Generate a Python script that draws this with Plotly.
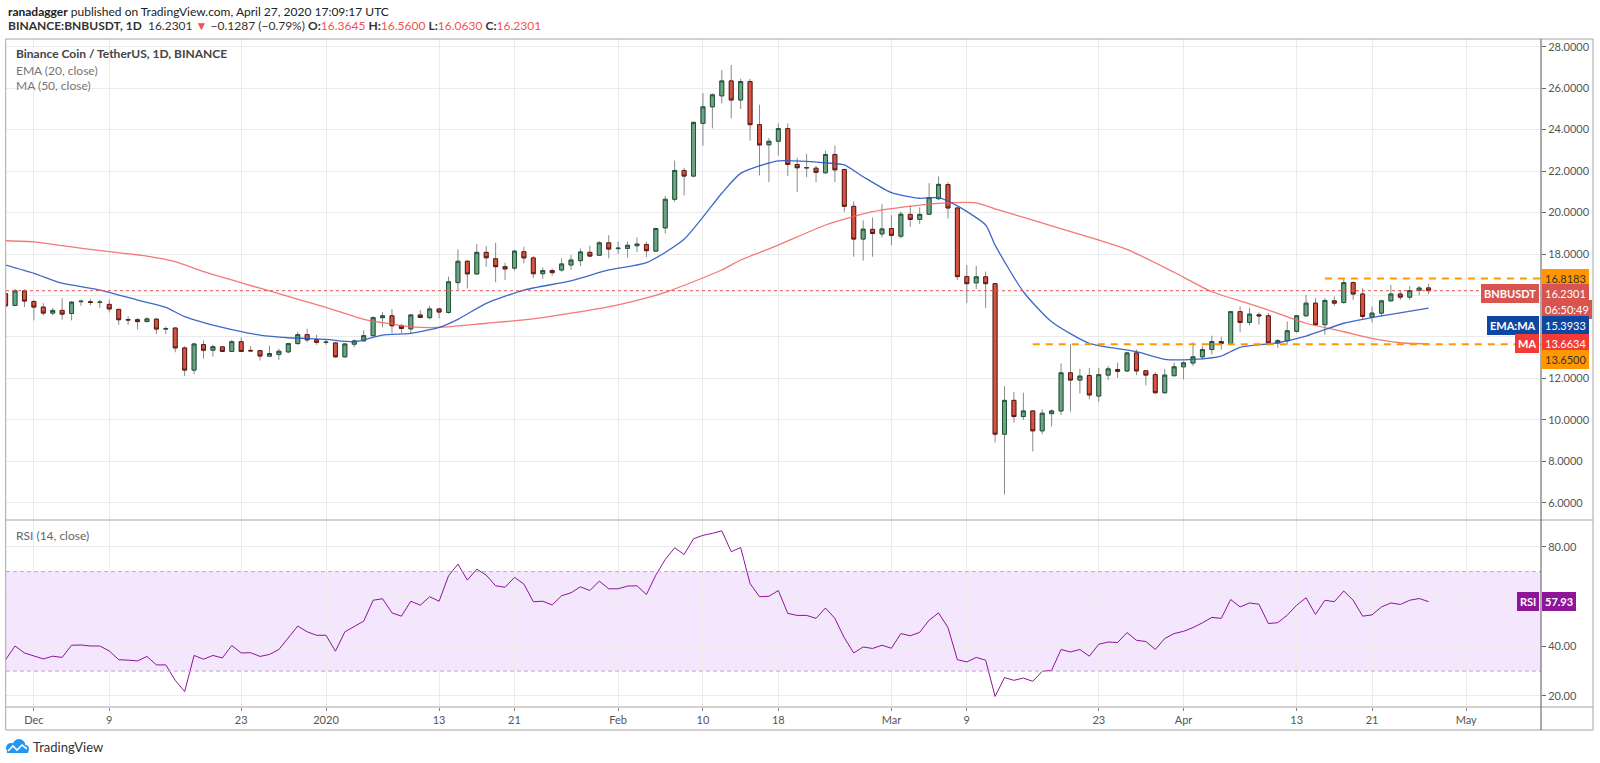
import pandas as pd
import plotly.graph_objects as go

# BINANCE:BNBUSDT daily candles, 28 Nov 2019 -> 27 Apr 2020
dates = pd.date_range('2019-11-28', '2020-04-27', freq='D')

opens = (
    [16.08, 15.52, 16.22]
    + [15.71, 15.44, 15.15, 15.28, 15.13, 15.70, 15.70, 15.67, 15.57, 15.33, 14.84, 14.83, 14.74, 14.86, 14.38, 14.43,
       13.47, 12.40, 13.63, 13.36, 13.52, 13.30, 13.77, 13.35, 13.34, 13.07, 13.15, 13.28, 13.68, 14.11, 13.87]
    + [13.73, 13.71, 13.04, 13.65, 13.81, 14.06, 14.93, 15.02, 14.54, 14.39, 15.06, 14.93, 15.35, 15.18, 16.62, 17.65,
       17.04, 18.08, 17.77, 17.39, 17.32, 18.11, 17.81, 17.05, 17.20, 17.23, 17.47, 17.68, 18.08, 17.94, 18.54]
    + [18.26, 18.27, 18.40, 18.46, 18.14, 19.26, 20.64, 22.03, 21.76, 24.30, 25.10, 25.63, 26.35, 25.43, 26.32, 24.24,
       23.27, 23.44, 24.05, 22.32, 22.15, 22.14, 21.92, 22.80, 22.08, 20.30, 18.72, 19.19, 18.97]
    + [19.23, 18.86, 19.91, 19.67, 19.92, 20.67, 21.35, 20.22, 16.91, 16.61, 16.90, 16.57, 9.31, 10.94, 10.16, 10.43,
       9.47, 10.30, 10.43, 12.27, 11.92, 12.14, 11.15, 12.16, 12.43, 12.36, 13.23, 12.37, 12.18, 11.31, 12.13]
    + [12.56, 12.74, 13.04, 13.39, 13.78, 13.68, 15.22, 14.70, 15.07, 15.02, 13.71, 13.82, 14.27, 15.02, 15.63, 14.59,
       15.74, 15.66, 16.62, 16.07, 14.96, 15.15, 15.74, 16.07, 15.92, 16.25, 16.3645]
)
highs = (
    [16.20, 16.32, 16.30]
    + [15.78, 15.63, 15.40, 15.87, 15.72, 15.80, 15.84, 15.80, 15.80, 15.35, 15.00, 14.92, 14.95, 14.90, 14.50, 14.45,
       13.55, 13.72, 13.83, 13.63, 13.56, 13.86, 13.98, 13.55, 13.38, 13.58, 13.43, 13.72, 14.26, 14.40, 14.10]
    + [13.87, 13.74, 13.70, 13.87, 14.33, 15.00, 15.20, 15.35, 14.63, 15.10, 15.30, 15.50, 15.40, 16.91, 18.22, 17.72,
       18.48, 18.38, 18.54, 17.58, 18.20, 18.35, 17.90, 17.35, 17.30, 17.79, 17.95, 18.27, 18.40, 18.62, 18.91]
    + [18.60, 18.60, 18.80, 18.60, 19.26, 20.80, 22.51, 22.16, 24.40, 25.76, 25.75, 26.87, 27.12, 26.45, 26.45, 25.20,
       23.60, 24.30, 24.30, 22.64, 22.83, 22.25, 22.99, 23.23, 22.10, 20.54, 19.63, 19.76, 20.40]
    + [19.87, 20.05, 20.35, 20.25, 21.42, 21.74, 21.47, 20.25, 17.47, 17.42, 17.15, 16.60, 11.63, 11.34, 11.31, 10.45,
       10.51, 10.51, 12.72, 13.65, 12.46, 12.51, 12.51, 12.60, 12.76, 13.27, 13.39, 12.40, 12.30, 12.46, 12.76]
    + [12.83, 13.74, 13.55, 14.06, 14.00, 15.25, 15.47, 15.40, 15.18, 15.15, 13.90, 14.75, 15.05, 16.03, 15.87, 15.87,
       15.95, 16.8183, 16.68, 16.35, 15.47, 15.80, 16.51, 16.24, 16.45, 16.45, 16.56]
)
lows = (
    [15.40, 15.48, 15.44]
    + [14.80, 15.04, 15.04, 14.83, 14.80, 15.50, 15.53, 15.40, 15.18, 14.58, 14.58, 14.36, 14.72, 14.14, 14.14, 13.26,
       12.11, 12.20, 12.95, 13.05, 13.28, 13.27, 13.27, 13.30, 12.86, 13.05, 12.90, 13.22, 13.62, 13.74, 13.62]
    + [13.62, 13.00, 13.00, 13.50, 13.80, 14.03, 14.46, 14.19, 14.19, 14.15, 14.90, 14.85, 14.90, 15.12, 16.24, 16.34,
       16.99, 17.39, 16.64, 16.75, 17.20, 17.55, 16.85, 16.80, 16.95, 17.15, 17.23, 17.42, 17.85, 17.90, 17.79]
    + [18.00, 17.83, 18.10, 17.85, 18.10, 18.99, 20.51, 20.83, 21.70, 23.23, 24.06, 25.26, 24.54, 25.00, 23.47, 21.79,
       21.47, 22.75, 21.76, 20.99, 21.71, 21.47, 21.87, 21.47, 20.03, 17.87, 17.68, 17.87, 18.80]
    + [18.43, 18.75, 19.31, 19.45, 19.87, 20.59, 19.71, 16.75, 15.63, 16.31, 15.39, 8.91, 6.40, 9.87, 10.00, 8.48,
       9.31, 9.68, 10.23, 10.40, 11.28, 10.99, 10.86, 11.92, 12.03, 12.30, 12.16, 11.66, 11.25, 11.25, 12.10]
    + [11.95, 12.59, 12.91, 13.15, 13.39, 13.60, 14.22, 14.55, 14.59, 13.58, 13.47, 13.63, 14.20, 14.99, 14.54, 14.11,
       15.50, 15.60, 15.79, 14.86, 14.70, 15.00, 15.71, 15.79, 15.79, 16.00, 16.063]
)
closes = (
    [15.50, 16.22, 15.73]
    + [15.44, 15.15, 15.28, 15.10, 15.68, 15.72, 15.66, 15.68, 15.35, 14.83, 14.82, 14.74, 14.87, 14.38, 14.40, 13.47,
       12.40, 13.66, 13.36, 13.53, 13.30, 13.77, 13.30, 13.33, 13.08, 13.20, 13.31, 13.68, 14.11, 13.86, 13.74]
    + [13.75, 13.04, 13.66, 13.81, 14.06, 14.93, 15.02, 14.54, 14.41, 15.06, 14.94, 15.35, 15.20, 16.66, 17.65, 17.04,
       18.08, 17.82, 17.39, 17.28, 18.14, 17.81, 17.05, 17.20, 17.10, 17.52, 17.71, 18.10, 17.90, 18.54, 18.24]
    + [18.28, 18.42, 18.48, 18.16, 19.23, 20.64, 22.03, 21.76, 24.35, 25.10, 25.68, 26.35, 25.43, 26.32, 24.24, 23.26,
       23.44, 24.05, 22.32, 22.16, 22.17, 21.94, 22.80, 22.06, 20.30, 18.72, 19.20, 18.99, 19.21]
    + [18.90, 19.92, 19.67, 19.91, 20.72, 21.36, 20.22, 16.91, 16.57, 16.90, 16.57, 9.31, 10.94, 10.16, 10.43, 9.47,
       10.32, 10.43, 12.27, 11.92, 12.11, 11.20, 12.18, 12.46, 12.34, 13.23, 12.36, 12.16, 11.31, 12.16, 12.56]
    + [12.75, 13.04, 13.39, 13.78, 13.68, 15.22, 14.70, 15.10, 15.02, 13.71, 13.82, 14.30, 15.02, 15.63, 14.59, 15.76,
       15.63, 16.62, 16.07, 14.99, 15.15, 15.74, 16.07, 15.92, 16.24, 16.3588, 16.2301]
)

# RSI (14, close)
rsi = (
    [34.6, 40.1, 37.3]
    + [36.1, 34.9, 36.0, 35.5, 40.4, 40.5, 40.1, 40.1, 38.1, 34.6, 34.4, 34.1, 35.9, 32.5, 32.5, 26.3,
       21.8, 36.3, 34.8, 36.3, 35.3, 40.3, 37.3, 37.4, 35.9, 36.7, 38.7, 43.4, 48.1, 45.8, 44.4]
    + [44.4, 38.0, 45.8, 47.8, 50.1, 58.5, 59.1, 53.4, 52.1, 58.1, 56.5, 59.9, 58.1, 68.3, 73.0, 66.6,
       71.0, 68.6, 64.3, 63.7, 67.7, 65.0, 57.9, 58.1, 56.6, 60.3, 61.5, 63.9, 62.4, 66.2, 63.1]
    + [63.1, 64.2, 64.3, 60.8, 68.6, 74.9, 79.6, 76.9, 83.2, 84.6, 85.4, 86.4, 78.0, 79.7, 65.2, 59.9,
       60.1, 62.4, 53.2, 52.4, 52.4, 51.2, 55.4, 51.2, 43.4, 37.3, 39.7, 39.1, 40.4]
    + [39.2, 45.1, 44.2, 45.6, 50.5, 53.4, 47.5, 34.6, 33.7, 35.5, 34.4, 19.8, 27.4, 26.3, 27.2, 25.9,
       29.9, 30.3, 38.7, 37.7, 38.7, 36.0, 40.8, 41.7, 41.5, 45.5, 42.4, 41.9, 38.7, 43.1, 45.1]
    + [46.0, 47.5, 49.4, 51.6, 51.2, 58.8, 55.8, 57.4, 56.9, 49.1, 49.5, 52.5, 56.5, 59.5, 52.8, 58.5,
       57.9, 62.2, 58.5, 52.1, 52.6, 55.8, 57.4, 56.8, 58.5, 59.2, 57.93]
)

# EMA 20 and MA 50, read at points along the curves
ema_dates = ['2019-11-28', '2019-12-01', '2019-12-04', '2019-12-08', '2019-12-12', '2019-12-15', '2019-12-17',
             '2019-12-21', '2019-12-25', '2019-12-28', '2020-01-01', '2020-01-04', '2020-01-07', '2020-01-10',
             '2020-01-13', '2020-01-15', '2020-01-18', '2020-01-22', '2020-01-27', '2020-01-31', '2020-02-04',
             '2020-02-08', '2020-02-12', '2020-02-14', '2020-02-18', '2020-02-23', '2020-02-25', '2020-02-27',
             '2020-03-01', '2020-03-04', '2020-03-06', '2020-03-08', '2020-03-11', '2020-03-12', '2020-03-15',
             '2020-03-18', '2020-03-22', '2020-03-27', '2020-03-30', '2020-04-02', '2020-04-05', '2020-04-07',
             '2020-04-11', '2020-04-14', '2020-04-18', '2020-04-20', '2020-04-23', '2020-04-27']
ema_vals = [17.47, 17.07, 16.59, 16.26, 15.78, 15.43, 14.98, 14.46, 14.09, 13.96, 13.88, 13.77, 14.09, 14.17,
            14.46, 14.85, 15.62, 16.26, 16.71, 17.23, 17.58, 18.71, 20.93, 21.89, 22.49, 22.40, 22.30, 21.73,
            20.96, 20.69, 20.72, 20.32, 19.40, 18.43, 16.18, 14.73, 13.69, 13.29, 12.92, 12.92, 13.08, 13.50,
            13.72, 14.04, 14.66, 14.85, 15.09, 15.3933]

ma_dates = ['2019-11-28', '2019-12-01', '2019-12-04', '2019-12-09', '2019-12-13', '2019-12-16', '2019-12-19',
            '2019-12-22', '2019-12-25', '2020-01-01', '2020-01-05', '2020-01-08', '2020-01-10', '2020-01-13',
            '2020-01-18', '2020-01-22', '2020-01-27', '2020-02-01', '2020-02-06', '2020-02-12', '2020-02-14',
            '2020-02-18', '2020-02-23', '2020-02-28', '2020-03-04', '2020-03-07', '2020-03-10', '2020-03-12',
            '2020-03-16', '2020-03-21', '2020-03-26', '2020-03-31', '2020-04-04', '2020-04-08', '2020-04-11',
            '2020-04-14', '2020-04-18', '2020-04-21', '2020-04-24', '2020-04-27']
ma_vals = [18.64, 18.59, 18.40, 18.11, 17.90, 17.63, 17.15, 16.75, 16.35, 15.43, 14.85, 14.62, 14.49, 14.46,
           14.66, 14.82, 15.15, 15.55, 16.15, 17.23, 17.71, 18.43, 19.40, 20.04, 20.36, 20.47, 20.47, 20.18,
           19.63, 18.95, 18.22, 17.12, 16.18, 15.60, 15.14, 14.66, 14.25, 13.93, 13.72, 13.6634]

last_price = 16.2301
resistance = 16.8183
support = 13.65

date_ticks = ['2019-12-01', '2019-12-09', '2019-12-23', '2020-01-01', '2020-01-13', '2020-01-21', '2020-02-01',
              '2020-02-10', '2020-02-18', '2020-03-01', '2020-03-09', '2020-03-23', '2020-04-01', '2020-04-13',
              '2020-04-21', '2020-05-01']
date_labels = ['Dec', '9', '23', '2020', '13', '21', 'Feb', '10', '18', 'Mar', '9', '23', 'Apr', '13', '21', 'May']

price_ticks = [6, 8, 10, 12, 14, 16, 18, 20, 22, 24, 26, 28]
# 14 and 16 sit under the coloured price tags
price_labels = ['6.0000', '8.0000', '10.0000', '12.0000', '', '', '18.0000', '20.0000', '22.0000', '24.0000',
                '26.0000', '28.0000']
rsi_ticks = [20, 40, 60, 80]
rsi_labels = ['20.00', '40.00', '', '80.00']

FONT = 'Lato, Open Sans, sans-serif'
GRID = '#ebebeb'

# plot box in pixels: x 6..1541, y 39..707
def px(x, y):
    return (x - 6) / 1535, (707 - y) / 668

body_top = [max(o, c) for o, c in zip(opens, closes)]
body_bot = [min(o, c) for o, c in zip(opens, closes)]

fig = go.Figure()

# wicks (grey), then bodies on top with dark borders
fig.add_trace(go.Candlestick(
    x=dates, open=opens, high=highs, low=lows, close=closes,
    increasing=dict(line=dict(color='#8a8a8c', width=1), fillcolor='rgba(0,0,0,0)'),
    decreasing=dict(line=dict(color='#8a8a8c', width=1), fillcolor='rgba(0,0,0,0)'),
    hoverinfo='skip', showlegend=False, xaxis='x', yaxis='y'))
fig.add_trace(go.Candlestick(
    x=dates, open=opens, high=body_top, low=body_bot, close=closes,
    increasing=dict(line=dict(color='#225437', width=1), fillcolor='#6ba583'),
    decreasing=dict(line=dict(color='#5b1a13', width=1), fillcolor='#d75442'),
    hoverinfo='skip', showlegend=False, xaxis='x', yaxis='y'))

fig.add_trace(go.Scatter(x=ma_dates, y=ma_vals, mode='lines', line=dict(color='#f4625e', width=1.3, shape='spline', smoothing=0.6),
                         opacity=0.85, hoverinfo='skip', showlegend=False, xaxis='x', yaxis='y'))
fig.add_trace(go.Scatter(x=ema_dates, y=ema_vals, mode='lines', line=dict(color='#2a59c2', width=1.3, shape='spline', smoothing=0.6),
                         opacity=0.9, hoverinfo='skip', showlegend=False, xaxis='x', yaxis='y'))

fig.add_trace(go.Scatter(x=dates, y=rsi, mode='lines', line=dict(color='#8e1599', width=1),
                         hoverinfo='skip', showlegend=False, xaxis='x', yaxis='y2'))

x_left, y_bot = px(5.7, 730)
x_right, _ = px(1593, 0)

shapes = [
    # rsi band
    dict(type='rect', xref='paper', yref='y2', x0=0, x1=1, y0=30, y1=70, fillcolor='#f3e6fd', line_width=0, layer='below'),
    dict(type='line', xref='paper', yref='y2', x0=0, x1=1, y0=70, y1=70, line=dict(color='#b9aabd', width=1, dash='4px,3px')),
    dict(type='line', xref='paper', yref='y2', x0=0, x1=1, y0=30, y1=30, line=dict(color='#b9aabd', width=1, dash='4px,3px')),
    # last price line
    dict(type='line', xref='paper', yref='y', x0=0, x1=1, y0=last_price, y1=last_price, line=dict(color='#e0534f', width=1, dash='dot')),
    # resistance / support
    dict(type='line', xref='x', yref='y', x0='2020-04-16', x1='2020-05-09', y0=resistance, y1=resistance,
         line=dict(color='#ff9800', width=2, dash='7px,6px')),
    dict(type='line', xref='x', yref='y', x0='2020-03-16', x1='2020-05-09', y0=support, y1=support,
         line=dict(color='#ff9800', width=2, dash='7px,6px')),
    # frame, pane separator, axis lines
    dict(type='rect', xref='paper', yref='paper', x0=x_left, x1=x_right, y0=y_bot, y1=1, line=dict(color='#a6a6a6', width=1)),
    dict(type='line', xref='paper', yref='paper', x0=x_left, x1=x_right, y0=0.2799, y1=0.2799, line=dict(color='#a6a6a6', width=1)),
    dict(type='line', xref='paper', yref='paper', x0=x_left, x1=x_right, y0=0, y1=0, line=dict(color='#a6a6a6', width=1)),
    dict(type='line', xref='paper', yref='paper', x0=1, x1=1, y0=y_bot, y1=1, line=dict(color='#555555', width=1)),
]

# TradingView logo: small blue cloud with a white zigzag
for cx, cy, r in [(11, 748, 5), (19, 745.5, 6.5), (25, 749, 4)]:
    a0, b0 = px(cx - r, cy + r)
    a1, b1 = px(cx + r, cy - r)
    shapes.append(dict(type='circle', xref='paper', yref='paper', x0=a0, x1=a1, y0=b0, y1=b1,
                       fillcolor='#2196f3', line_width=0))
a0, b0 = px(7, 753)
a1, b1 = px(28, 748)
shapes.append(dict(type='rect', xref='paper', yref='paper', x0=a0, x1=a1, y0=b0, y1=b1, fillcolor='#2196f3', line_width=0))
zig = [px(8, 751), px(13, 746), px(17, 750), px(22, 745), px(27, 749)]
path = 'M ' + ' L '.join('%.5f,%.5f' % p for p in zig)
shapes.append(dict(type='path', xref='paper', yref='paper', path=path, line=dict(color='white', width=1.6)))


def box(text, y, bg, fg='white', shift=0, side='value', yref='y'):
    a = dict(text=text, xref='paper', yref=yref, x=1, y=y, yshift=shift, showarrow=False,
             bgcolor=bg, bordercolor=bg, borderpad=2, font=dict(family=FONT, size=11, color=fg))
    if side == 'value':
        a.update(xanchor='left', xshift=1)
    else:
        a.update(xanchor='right', xshift=-2)
    return a


def note(text, x, y, size=12, color='#777', family=FONT):
    return dict(text=text, xref='paper', yref='paper', x=x, y=y, xanchor='left', yanchor='middle',
                showarrow=False, font=dict(family=family, size=size, color=color))


annotations = [
    note('<b>ranadagger</b> published on TradingView.com, April 27, 2020 17:09:17 UTC', 0, px(0, 11)[1], color='#222'),
    note('<b>BINANCE:BNBUSDT, 1D</b>  16.2301 <span style="color:#ef5350">▼</span> −0.1287 (−0.79%) '
         '<b>O:</b><span style="color:#ef5350">16.3645</span> <b>H:</b><span style="color:#ef5350">16.5600</span> '
         '<b>L:</b><span style="color:#ef5350">16.0630</span> <b>C:</b><span style="color:#ef5350">16.2301</span>',
         0, px(0, 25)[1], color='#333'),
    note('<b>Binance Coin / TetherUS, 1D, BINANCE</b>', px(14, 0)[0], px(0, 53.3)[1], color='#444'),
    note('EMA (20, close)', px(14, 0)[0], px(0, 70.7)[1]),
    note('MA (50, close)', px(14, 0)[0], px(0, 85)[1]),
    note('RSI (14, close)', px(14, 0)[0], px(0, 535)[1], color='#666'),
    note('TradingView', px(31, 0)[0], px(0, 747)[1], size=13, color='#333'),
    box('16.8183', resistance, '#ff9800', fg='#333'),
    box('16.2301', last_price, '#d9534f', shift=-3),
    box('<b>BNBUSDT</b>', last_price, '#d9534f', shift=-3, side='label'),
    box('06:50:49', last_price, '#d9534f', shift=-19),
    box('15.3933', 15.3933, '#0d47a1', shift=-17),
    box('<b>EMA:MA</b>', 15.3933, '#0d47a1', shift=-17, side='label'),
    box('13.6634', 13.6634, '#f23b36'),
    box('<b>MA</b>', 13.6634, '#f23b36', side='label'),
    box('13.6500', support, '#ff9800', fg='#333', shift=-15),
    box('<b>57.93</b>', 57.93, '#8e1599', yref='y2'),
    box('<b>RSI</b>', 57.93, '#8e1599', yref='y2', side='label'),
]

fig.update_layout(
    width=1600, height=763,
    margin=dict(l=6, r=59, t=39, b=56),
    paper_bgcolor='white', plot_bgcolor='white',
    font=dict(family=FONT, size=11, color='#555'),
    boxgap=0.4,
    showlegend=False,
    xaxis=dict(type='date', range=['2019-11-28 01:00', '2020-05-08 22:20'], anchor='y2',
               rangeslider=dict(visible=False), tickvals=date_ticks, ticktext=date_labels,
               showgrid=True, gridcolor=GRID, ticks='outside', ticklen=3, tickcolor='#888',
               tickfont=dict(family=FONT, size=11, color='#555'), showline=False, zeroline=False, automargin=False),
    yaxis=dict(domain=[0.2799, 1], range=[5.168, 28.372], side='right', anchor='x',
               tickvals=price_ticks, ticktext=price_labels, showgrid=True, gridcolor=GRID,
               ticks='outside', ticklen=4, tickcolor='#666', tickfont=dict(family=FONT, size=11, color='#555'),
               zeroline=False, showline=False, automargin=False),
    yaxis2=dict(domain=[0, 0.2799], range=[15.57, 90.75], side='right', anchor='x',
                tickvals=rsi_ticks, ticktext=rsi_labels, showgrid=True, gridcolor=GRID,
                ticks='outside', ticklen=4, tickcolor='#666', tickfont=dict(family=FONT, size=11, color='#555'),
                zeroline=False, showline=False, automargin=False),
    shapes=shapes,
    annotations=annotations,
)

# page body has a default margin; drop it so the 1600x763 figure fills the window
fig.write_html('out.html', config={'displayModeBar': False},
               post_script="document.body.style.margin='0';document.body.style.overflow='hidden';")
